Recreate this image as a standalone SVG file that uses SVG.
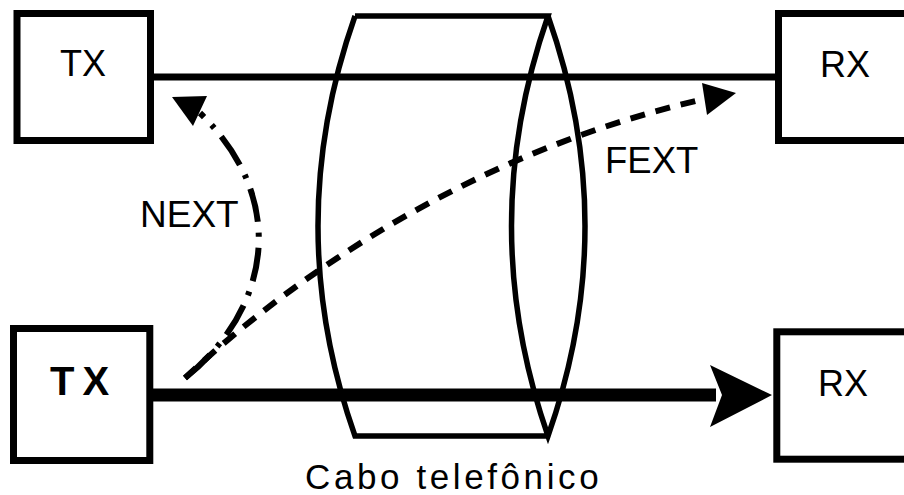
<svg xmlns="http://www.w3.org/2000/svg" width="904" height="495" viewBox="0 0 904 495">
<style>
.box{fill:#fff;stroke:#000;stroke-width:7}
.lbl{font-family:"Liberation Sans",Arial,sans-serif;font-size:36px;fill:#000}
.cyl{fill:none;stroke:#000;stroke-width:5.5;stroke-linejoin:miter}
.ar{fill:#000;stroke:none}
</style>
<rect width="904" height="495" fill="#fff"/>
<g id="connectors">
<line x1="150" y1="77" x2="776" y2="77" stroke="#000" stroke-width="7"/>
<line x1="150" y1="395" x2="716" y2="395" stroke="#000" stroke-width="13"/>
<path class="ar" d="M710,365 L772,395 L710,427 L722,395 Z"/>
<path d="M185,378 C270,310 290,200 200,113" fill="none" stroke="#000" stroke-width="6" stroke-dasharray="34 11 4 11"/>
<path class="ar" d="M172,97 L207,96 L193,126 Z"/>
<path d="M185,378 C300,270 480,150 704,99" fill="none" stroke="#000" stroke-width="6" stroke-dasharray="15 11"/>
<path class="ar" d="M702,83 L736,93 L707,115 Z"/>
</g>
<g id="cable">
<path class="cyl" d="M355,16 Q281,226 355,436 L548,436 M355,16 L548,16 Q475,226 548,436 Q622,226 548,16"/>
<text class="lbl" x="305" y="489" style="font-size:35px;letter-spacing:3.6px">Cabo telefônico</text>
</g>
<g id="tx-top">
<rect class="box" x="17" y="13.5" width="133.5" height="127"/>
<text class="lbl" x="83" y="76" text-anchor="middle">TX</text>
</g>
<g id="tx-bottom">
<rect class="box" x="13.5" y="328.5" width="136.3" height="132"/>
<text class="lbl" x="50" y="395" style="font-size:40px;font-weight:bold;letter-spacing:8px">TX</text>
</g>
<g id="rx-top">
<rect class="box" x="778.5" y="13.5" width="200" height="127"/>
<text class="lbl" x="845" y="77" text-anchor="middle">RX</text>
</g>
<g id="rx-bottom">
<rect class="box" x="776.8" y="331.8" width="200" height="127.4"/>
<text class="lbl" x="843" y="396" text-anchor="middle">RX</text>
</g>
<g id="labels">
<text class="lbl" x="140" y="227" style="font-size:37px">NEXT</text>
<text class="lbl" x="605" y="173" style="font-size:36.5px">FEXT</text>
</g>
</svg>
